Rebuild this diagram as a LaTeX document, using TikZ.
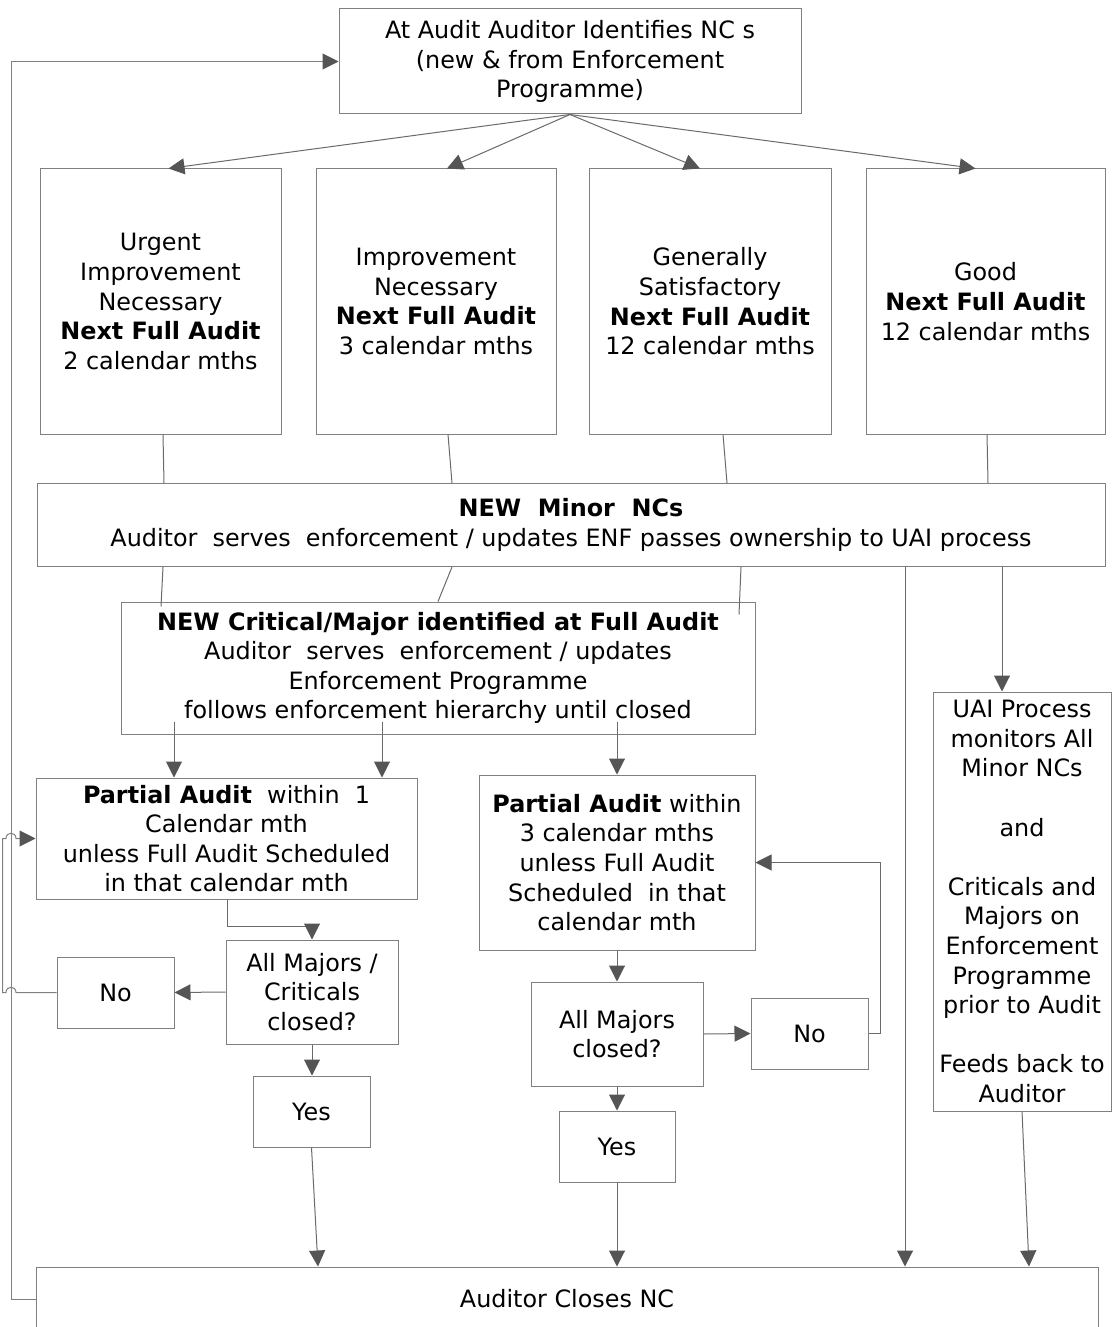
\documentclass[tikz,border=0pt]{standalone}
\usepackage{fontspec}
\setmainfont{DejaVu Sans}
\usetikzlibrary{arrows.meta,calc}
\definecolor{bordc}{HTML}{808080}
\definecolor{linec}{HTML}{6A6A6A}
\definecolor{tipc}{HTML}{555555}
\begin{document}
\begin{tikzpicture}[x=0.75pt,y=-0.75pt,
  bx/.style 2 args={draw=bordc, line width=0.75pt, minimum width=#1*0.75pt, minimum height=#2*0.75pt,
    inner sep=0pt, align=center, font=\fontsize{17.9pt}{22.2pt}\selectfont, text=black},
  con/.style={draw=linec, line width=0.75pt},
  arr/.style={con, -{Triangle[length=12pt,width=12pt,color=tipc]}},
]
\useasboundingbox (0,0) rectangle (1112,1327);
\clip (0,0) rectangle (1112,1327);
\fill[white] (0,0) rectangle (1112,1327);

\coordinate (jx) at (11,0);
\coordinate (lx) at (2.5,0);

% nodes
\node[bx={462}{105}] (top) at (570,61.5) {At Audit Auditor Identifies NC s\\(new \& from Enforcement\\Programme)};
\node[bx={241}{265}] (b1) at (160.5,301.5) {Urgent\\Improvement\\Necessary\\\textbf{Next Full Audit}\\2 calendar mths};
\node[bx={240}{265}] (b2) at (436,301.5) {Improvement\\Necessary\\\textbf{Next Full Audit}\\3 calendar mths};
\node[bx={242}{265}] (b3) at (710,301.5) {Generally\\Satisfactory\\\textbf{Next Full Audit}\\12 calendar mths};
\node[bx={239}{265}] (b4) at (985.5,301.5) {Good\\\textbf{Next Full Audit}\\12 calendar mths};
\node[bx={1068}{83}] (minor) at (571,525) {\textbf{NEW\ \ Minor\ \ NCs}\\Auditor\ \ serves\ \ enforcement / updates ENF passes ownership to UAI process};
\node[bx={634}{132}] (crit) at (438,668) {\textbf{NEW Critical/Major identified at Full Audit}\\Auditor\ \ serves\ \ enforcement / updates\\Enforcement Programme\\follows enforcement hierarchy until closed};
\node[bx={381}{121}] (p1) at (226.5,838.5) {\textbf{Partial Audit}\ \ within\ \ 1\\Calendar mth\\unless Full Audit Scheduled\\in that calendar mth};
\node[bx={276}{175}] (p2) at (617,862.5) {\textbf{Partial Audit} within\\3 calendar mths\\unless Full Audit\\Scheduled\ \ in that\\calendar mth};
\node[bx={172}{104}] (am1) at (312,992) {All Majors /\\Criticals\\closed?};
\node[bx={117}{71}] (no1) at (115.5,992.5) {No};
\node[bx={117}{71}] (yes1) at (311.5,1111.5) {Yes};
\node[bx={172}{104}] (am2) at (617,1034) {All Majors\\closed?};
\node[bx={117}{71}] (no2) at (809.5,1033.5) {No};
\node[bx={116}{71}] (yes2) at (617,1146.5) {Yes};
\node[bx={178}{419}] (uai) at (1022,901.5) {UAI Process\\monitors All\\Minor NCs\\[22.2pt]and\\[22.2pt]Criticals and\\Majors on\\Enforcement\\Programme\\prior to Audit\\[22.2pt]Feeds back to\\Auditor};
\node[bx={1062}{64}] (bot) at (567,1299) {Auditor Closes NC};

% top to rating boxes
\draw[arr] (top.south) -- ($(b1.north)+(8,0)$);
\draw[arr] (top.south) -- ($(b2.north)+(11,0)$);
\draw[arr] (top.south) -- ($(b3.north)+(-10,0)$);
\draw[arr] (top.south) -- ($(b4.north)+(-10,0)$);

% rating boxes to minor
\draw[con] ($(b1.south)+(2.5,0)$) -- ($(b1.south|-minor.north)+(3.5,0)$);
\draw[con] ($(b2.south)+(12,0)$) -- ($(b2.south|-minor.north)+(16,0)$);
\draw[con] ($(b3.south)+(13,0)$) -- ($(b3.south|-minor.north)+(17,0)$);
\draw[con] ($(b4.south)+(1.5,0)$) -- ($(b4.south|-minor.north)+(2.5,0)$);

% minor to critical
\draw[con] ($(minor.south)+(-408,0)$) -- ($(crit.north)+(-277,5)$);
\draw[con] ($(minor.south)+(-119,0)$) -- (crit.north);
\draw[con] ($(minor.south)+(170,0)$) -- ($(crit.north)+(301,13)$);

% minor to bottom and UAI
\draw[arr] ($(minor.south)+(334,0)$) -- ($(bot.north)+(338,0)$);
\draw[arr] ($(minor.south)+(431,0)$) -- ($(uai.north)+(-20,0)$);
\draw[arr] (uai.south) -- ($(bot.north)+(462,0)$);

% critical to partial audits
\draw[arr] ($(crit.south)+(-264,-13)$) -- ($(p1.north)+(-52.5,0)$);
\draw[arr] ($(crit.south)+(-56,-13)$) -- ($(p1.north)+(155.5,0)$);
\draw[arr] ($(crit.south)+(179,-13)$) -- (p2.north);

% left branch
\draw[arr] ($(p1.south)+(0.5,0)$) -- ++(0,27) -| (am1.north);
\draw[arr] (am1.west) -- (no1.east);
\draw[arr] (am1.south) -- (am1.south|-yes1.north);
\draw[arr] (yes1.south) -- ($(bot.north)+(-249,0)$);

% right branch
\draw[arr] (p2.south) -- (am2.north);
\draw[arr] (am2.east) -- (no2.west);
\draw[arr] (no2.east) -- ++(12,0) |- (p2.east);
\draw[arr] (am2.south) -- (yes2.north);
\draw[arr] (yes2.south) -- (yes2.south|-bot.north);

% outer feedback line
\draw[arr, draw=bordc] (bot.west) -- (jx|-bot.west) -- (jx|-top.west) -- (top.west);

% loop from No back to partial audit 1, jumping the outer line
\draw[arr, draw=bordc] (no1.west) -- ($(jx|-no1.west)+(5,0)$)
   .. controls +(0,-7) and +(0,-7) .. ($(jx|-no1.west)+(-5,0)$)
   -- (lx|-no1.west) -- (lx|-p1.west)
   -- ($(jx|-p1.west)+(-5,0)$)
   .. controls +(0,-7) and +(0,-7) .. ($(jx|-p1.west)+(5,0)$)
   -- (p1.west);
\end{tikzpicture}
\end{document}
